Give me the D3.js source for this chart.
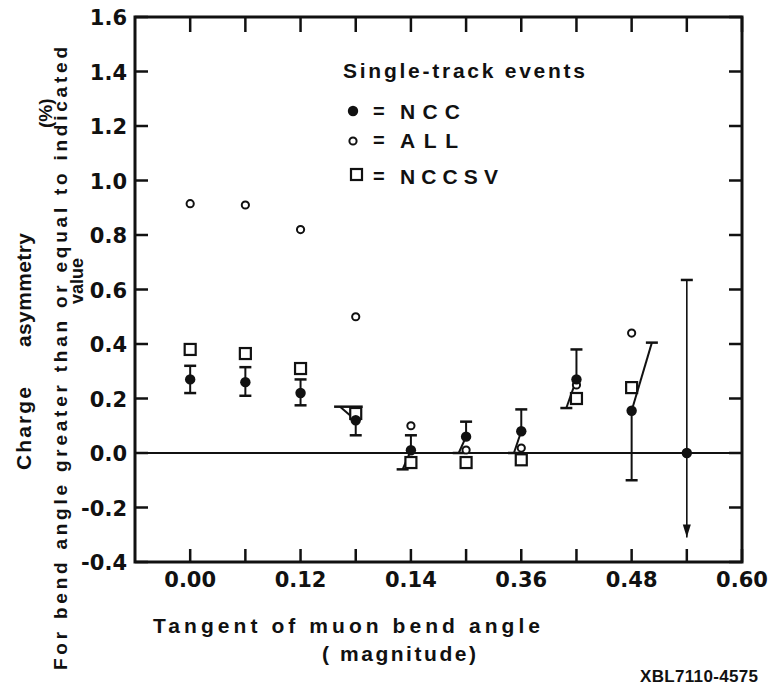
<!DOCTYPE html>
<html>
<head>
<meta charset="utf-8">
<script src="https://cdn.jsdelivr.net/npm/d3@7"></script>
<style>
  body { margin: 0; background: #fff; }
  text { font-family: "Liberation Sans", "DejaVu Sans", sans-serif; font-weight: bold; fill: #111; }
  text.num { font-family: "DejaVu Sans", sans-serif; }
</style>
</head>
<body>
<script>
// Data
let tanBins  = [0.00, 0.06, 0.12, 0.18, 0.24, 0.30, 0.36, 0.42, 0.48, 0.54];
let nccVals  = [0.27, 0.26, 0.22, 0.12, 0.01, 0.06, 0.08, 0.27, 0.155, 0.0];
let nccHigh  = [0.32, 0.315, 0.27, 0.17, 0.065, 0.115, 0.16, 0.38, 0.405, 0.635];
let nccLow   = [0.22, 0.21, 0.175, 0.065, -0.06, 0.0, 0.0, 0.165, -0.10, -0.31];
// some bars in the drawing lean sideways (x offset of the bar end)
let highLean = [0, 0, 0, -0.017, 0, 0, 0, 0, 0.022, 0];
let lowLean  = [0, 0, 0, 0, -0.009, -0.008, -0.008, -0.011, 0, 0];
let allVals  = [0.915, 0.91, 0.82, 0.50, 0.10, 0.011, 0.018, 0.25, 0.44];
let nccsvVals = [0.38, 0.365, 0.31, 0.145, -0.035, -0.035, -0.025, 0.20, 0.24];

let xTickVals = [0.00, 0.12, 0.24, 0.36, 0.48, 0.60];
let xTickText = ["0.00", "0.12", "0.14", "0.36", "0.48", "0.60"];
let yTickVals = [1.6, 1.4, 1.2, 1.0, 0.8, 0.6, 0.4, 0.2, 0.0, -0.2, -0.4];
let minorX = d3.range(0, 11).map(i => +(i * 0.06).toFixed(2));

let w = 777, h = 689;
let pLeft = 135, pRight = 742, pTop = 17, pBottom = 562;

let svg = d3.select('body').append('svg')
            .attr('width', w)
            .attr('height', h);

let x = d3.scaleLinear().domain([-0.06, 0.60]).range([pLeft, pRight]);
let y = d3.scaleLinear().domain([-0.4, 1.6]).range([pBottom, pTop]);

let ink = '#111';

// frame
svg.append('rect')
    .attr('x', pLeft).attr('y', pTop)
    .attr('width', pRight - pLeft).attr('height', pBottom - pTop)
    .attr('fill', 'none')
    .attr('stroke', ink)
    .attr('stroke-width', 3);

// ticks on all four sides, pointing inward
let tk = 13;
svg.append('g').selectAll('line').data(minorX).enter().append('line')
    .attr('x1', d => x(d)).attr('x2', d => x(d))
    .attr('y1', pBottom).attr('y2', pBottom - tk)
    .attr('stroke', ink).attr('stroke-width', 2.5);
svg.append('g').selectAll('line').data(minorX).enter().append('line')
    .attr('x1', d => x(d)).attr('x2', d => x(d))
    .attr('y1', pTop).attr('y2', pTop + tk + 2)
    .attr('stroke', ink).attr('stroke-width', 2.5);
svg.append('g').selectAll('line').data(yTickVals).enter().append('line')
    .attr('x1', pLeft).attr('x2', pLeft + tk)
    .attr('y1', d => y(d)).attr('y2', d => y(d))
    .attr('stroke', ink).attr('stroke-width', 2.5);
svg.append('g').selectAll('line').data(yTickVals).enter().append('line')
    .attr('x1', pRight).attr('x2', pRight - tk)
    .attr('y1', d => y(d)).attr('y2', d => y(d))
    .attr('stroke', ink).attr('stroke-width', 2.5);

// tick labels
svg.append('g').selectAll('text').data(xTickVals).enter().append('text')
    .attr('class', 'num')
    .attr('x', d => x(d))
    .attr('y', 587)
    .attr('text-anchor', 'middle')
    .attr('font-size', 21)
    .text((d, i) => xTickText[i]);

svg.append('g').selectAll('text').data(yTickVals).enter().append('text')
    .attr('class', 'num')
    .attr('x', 127)
    .attr('y', d => y(d) + 8)
    .attr('text-anchor', 'end')
    .attr('font-size', 21)
    .text(d => (d < 0 ? '-' : '') + Math.abs(d).toFixed(1));

// zero line
svg.append('line')
    .attr('x1', pLeft).attr('x2', pRight)
    .attr('y1', y(0)).attr('y2', y(0))
    .attr('stroke', ink).attr('stroke-width', 2);

// NCC error bars
let bars = tanBins.map((t, i) => ({t: t, v: nccVals[i], hi: nccHigh[i], lo: nccLow[i],
                                   hl: highLean[i], ll: lowLean[i]}));
let errG = svg.append('g');
bars.forEach(function(d, i) {
    let sw = i == 9 ? 1.6 : 2;
    let hx = x(d.t + d.hl), lx = x(d.t + d.ll);
    errG.append('line')
        .attr('x1', x(d.t)).attr('y1', y(d.v))
        .attr('x2', hx).attr('y2', y(d.hi))
        .attr('stroke', ink).attr('stroke-width', sw);
    // cap: a bar leaning left keeps its cap running back over the point
    errG.append('line')
        .attr('x1', hx - 6).attr('x2', d.hl < 0 ? x(d.t) + 7 : hx + 6)
        .attr('y1', y(d.hi)).attr('y2', y(d.hi))
        .attr('stroke', ink).attr('stroke-width', 2.5);
    errG.append('line')
        .attr('x1', x(d.t)).attr('y1', y(d.v))
        .attr('x2', lx).attr('y2', y(d.lo))
        .attr('stroke', ink).attr('stroke-width', sw);
    if (i == 9) {
        // last bin: lower bar ends in an arrow
        let ax = x(d.t), ay = y(d.lo);
        errG.append('path')
            .attr('d', `M${ax - 4},${ay - 13}L${ax + 4},${ay - 13}L${ax},${ay}Z`)
            .attr('fill', ink);
    } else {
        errG.append('line')
            .attr('x1', lx - 6).attr('x2', lx + 6)
            .attr('y1', y(d.lo)).attr('y2', y(d.lo))
            .attr('stroke', ink).attr('stroke-width', 2.5);
    }
});

// NCCSV squares
svg.append('g').selectAll('rect').data(nccsvVals).enter().append('rect')
    .attr('x', (d, i) => x(tanBins[i]) - 5.5)
    .attr('y', d => y(d) - 5.5)
    .attr('width', 11).attr('height', 11)
    .attr('fill', '#fff')
    .attr('stroke', ink).attr('stroke-width', 2.2);

// ALL open circles
svg.append('g').selectAll('circle').data(allVals).enter().append('circle')
    .attr('cx', (d, i) => x(tanBins[i]))
    .attr('cy', d => y(d))
    .attr('r', 3.6)
    .attr('fill', '#fff')
    .attr('stroke', ink).attr('stroke-width', 2);

// NCC filled dots
svg.append('g').selectAll('circle').data(nccVals).enter().append('circle')
    .attr('cx', (d, i) => x(tanBins[i]))
    .attr('cy', d => y(d))
    .attr('r', 5.2)
    .attr('fill', ink);

// legend
svg.append('text')
    .attr('x', 343).attr('y', 78)
    .attr('font-size', 21)
    .attr('textLength', 242).attr('lengthAdjust', 'spacing')
    .text('Single-track events');

let legend = svg.append('g');
legend.append('circle').attr('cx', 353).attr('cy', 111).attr('r', 5.2).attr('fill', ink);
legend.append('circle').attr('cx', 353).attr('cy', 141).attr('r', 3.6)
    .attr('fill', '#fff').attr('stroke', ink).attr('stroke-width', 2);
legend.append('rect').attr('x', 351).attr('y', 169).attr('width', 11).attr('height', 11)
    .attr('fill', '#fff').attr('stroke', ink).attr('stroke-width', 2.2);
let legendRows = [["NCC", 119, 60], ["ALL", 148, 58], ["NCCSV", 184, 98]];
legend.selectAll('.eq').data(legendRows).enter().append('text')
    .attr('class', 'eq')
    .attr('x', 373).attr('y', d => d[1] - 1)
    .attr('font-size', 20)
    .text('=');
legend.selectAll('.lab').data(legendRows).enter().append('text')
    .attr('class', 'lab')
    .attr('x', 400).attr('y', d => d[1])
    .attr('font-size', 21)
    .attr('textLength', d => d[2]).attr('lengthAdjust', 'spacing')
    .text(d => d[0]);

// x axis title
svg.append('text')
    .attr('x', 153).attr('y', 633)
    .attr('font-size', 21)
    .attr('textLength', 387).attr('lengthAdjust', 'spacing')
    .text('Tangent of muon bend angle');
svg.append('text')
    .attr('x', 322).attr('y', 661)
    .attr('font-size', 21)
    .attr('textLength', 154).attr('lengthAdjust', 'spacing')
    .text('( magnitude)');
svg.append('text')
    .attr('x', 640).attr('y', 682)
    .attr('font-size', 17)
    .attr('textLength', 118).attr('lengthAdjust', 'spacing')
    .text('XBL7110-4575');

// y axis title (rotated lines)
function vtext(px, py, size, len, str) {
    let t = svg.append('text')
        .attr('transform', `translate(${px},${py}) rotate(-90)`)
        .attr('font-size', size)
        .text(str);
    if (len) t.attr('textLength', len).attr('lengthAdjust', 'spacing');
}
vtext(31, 470, 21, 83, 'Charge');
vtext(31, 347, 21, 114, 'asymmetry');
vtext(52, 128, 19, 0, '(%)');
vtext(67, 670, 19, 623, 'For bend angle greater than or equal to indicated');
vtext(83, 304, 18, 0, 'value');
</script>
</body>
</html>
